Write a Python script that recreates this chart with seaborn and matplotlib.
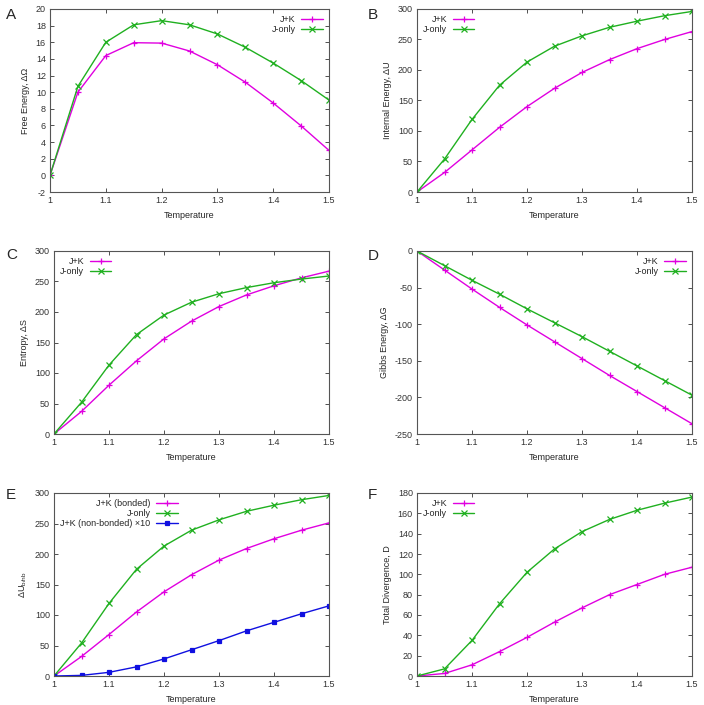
import numpy as np
import matplotlib
matplotlib.use('Agg')
import matplotlib.pyplot as plt
import seaborn as sns

sns.set_style('ticks')
plt.rcParams['font.family'] = ['Liberation Sans', 'DejaVu Sans']
plt.rcParams['axes.unicode_minus'] = False
plt.rcParams['mathtext.default'] = 'regular'

temperature = [1.0, 1.05, 1.1, 1.15, 1.2, 1.25, 1.3, 1.35, 1.4, 1.45, 1.5]

free_jk = [0, 10.0, 14.4, 15.95, 15.9, 14.95, 13.3, 11.2, 8.7, 5.95, 3.0]
free_j = [0, 10.7, 16.0, 18.1, 18.6, 18.1, 17.0, 15.4, 13.5, 11.4, 9.05]

internal_jk = [0, 32, 69, 106, 140, 170, 196, 217, 235, 250, 263]
internal_j = [0, 54, 119, 175, 213, 239, 256, 270, 280, 289, 296]

entropy_jk = [0, 37, 80, 120, 156, 185, 209, 228, 243, 256, 267]
entropy_j = [0, 52, 113, 163, 195, 216, 230, 240, 248, 254, 259]

gibbs_jk = [0, -26, -52, -77, -101, -124, -147, -170, -192, -214, -236]
gibbs_j = [0, -20, -40, -59, -79, -98, -117, -137, -157, -177, -197]

bonded_jk = [0, 32, 68, 105, 138, 166, 190, 209, 225, 239, 251]
bonded_j = [0, 54, 119, 175, 213, 239, 256, 270, 280, 289, 296]
nonbonded_jk10 = [0, 1, 6, 15, 28, 43, 58, 74, 88, 102, 115]

div_jk = [0, 2.5, 11, 24, 38, 53, 67, 80, 90, 100, 107]
div_j = [0, 7, 35, 71, 102, 125, 142, 154, 163, 170, 176]

MAGENTA = '#e000e0'
GREEN = '#20b020'
BLUE = '#1010e0'

fig = plt.figure(figsize=(7.04, 7.05), dpi=100)
W, H = 704, 705


def make_ax(left, top, right, bottom):
    return fig.add_axes([left / W, 1 - bottom / H, (right - left) / W, (bottom - top) / H])


def style(ax, ylabel, yticks, ylim, letter, lx, ly):
    ax.set_xlim(1, 1.5)
    ax.set_xticks([1, 1.1, 1.2, 1.3, 1.4, 1.5])
    ax.set_xticklabels(['1', '1.1', '1.2', '1.3', '1.4', '1.5'])
    ax.set_ylim(*ylim)
    ax.set_yticks(yticks)
    ax.tick_params(direction='in', length=3, width=0.6, labelsize=6.5,
                   top=True, right=True, pad=3, colors='#333333')
    for s in ax.spines.values():
        s.set_linewidth(0.8)
        s.set_color('#555555')
    ax.set_xlabel('Temperature', fontsize=6.5, labelpad=4)
    ax.set_ylabel(ylabel, fontsize=6.5, labelpad=4)
    fig.text(lx / W, 1 - ly / H, letter, fontsize=11, ha='left', va='center')


def draw(ax, y, color, marker, label, ms=5):
    mfc = color if marker == 's' else 'none'
    sns.lineplot(x=temperature, y=y, ax=ax, color=color, marker=marker,
                 markersize=ms, markeredgewidth=0.9, markerfacecolor=mfc,
                 markeredgecolor=color, linewidth=1.0, label=label)


def legend(ax, loc, anchor):
    ax.legend(loc=loc, bbox_to_anchor=anchor, frameon=False, markerfirst=False,
              fontsize=6.5, handlelength=2.4, handletextpad=0.6,
              labelspacing=0.1, borderaxespad=0.3)


# A
ax = make_ax(50, 9, 329, 192)
draw(ax, free_jk, MAGENTA, '+', 'J+K')
draw(ax, free_j, GREEN, 'x', 'J-only', ms=4)
style(ax, 'Free Energy, ΔΩ', np.arange(-2, 21, 2), (-2, 20), 'A', 6, 15)
legend(ax, 'upper right', (1.0, 1.0))

# B
ax = make_ax(417, 9, 692, 192)
draw(ax, internal_jk, MAGENTA, '+', 'J+K')
draw(ax, internal_j, GREEN, 'x', 'J-only', ms=4)
style(ax, 'Internal Energy, ΔU', np.arange(0, 301, 50), (0, 300), 'B', 368, 15)
legend(ax, 'upper left', (0.0, 1.0))

# C
ax = make_ax(54, 251, 329, 434)
draw(ax, entropy_jk, MAGENTA, '+', 'J+K')
draw(ax, entropy_j, GREEN, 'x', 'J-only', ms=4)
style(ax, 'Entropy, ΔS', np.arange(0, 301, 50), (0, 300), 'C', 6, 255)
legend(ax, 'upper left', (0.0, 1.0))

# D
ax = make_ax(417, 251, 692, 434)
draw(ax, gibbs_jk, MAGENTA, '+', 'J+K')
draw(ax, gibbs_j, GREEN, 'x', 'J-only', ms=4)
style(ax, 'Gibbs Energy, ΔG', np.arange(-250, 1, 50), (-250, 0), 'D', 368, 256)
legend(ax, 'upper right', (1.0, 1.0))

# E
ax = make_ax(54, 493, 329, 676)
draw(ax, bonded_jk, MAGENTA, '+', 'J+K (bonded)')
draw(ax, bonded_j, GREEN, 'x', 'J-only', ms=4)
draw(ax, nonbonded_jk10, BLUE, 's', 'J+K (non-bonded) ×10', ms=3)
style(ax, r'$\Delta U_{b/nb}$', np.arange(0, 301, 50), (0, 300), 'E', 6, 495)
legend(ax, 'upper left', (0.0, 1.0))

# F
ax = make_ax(417, 493, 692, 676)
draw(ax, div_jk, MAGENTA, '+', 'J+K')
draw(ax, div_j, GREEN, 'x', 'J-only', ms=4)
style(ax, 'Total Divergence, D', np.arange(0, 181, 20), (0, 180), 'F', 368, 495)
legend(ax, 'upper left', (0.0, 1.0))

fig.savefig('out.png', dpi=100, facecolor='white')
